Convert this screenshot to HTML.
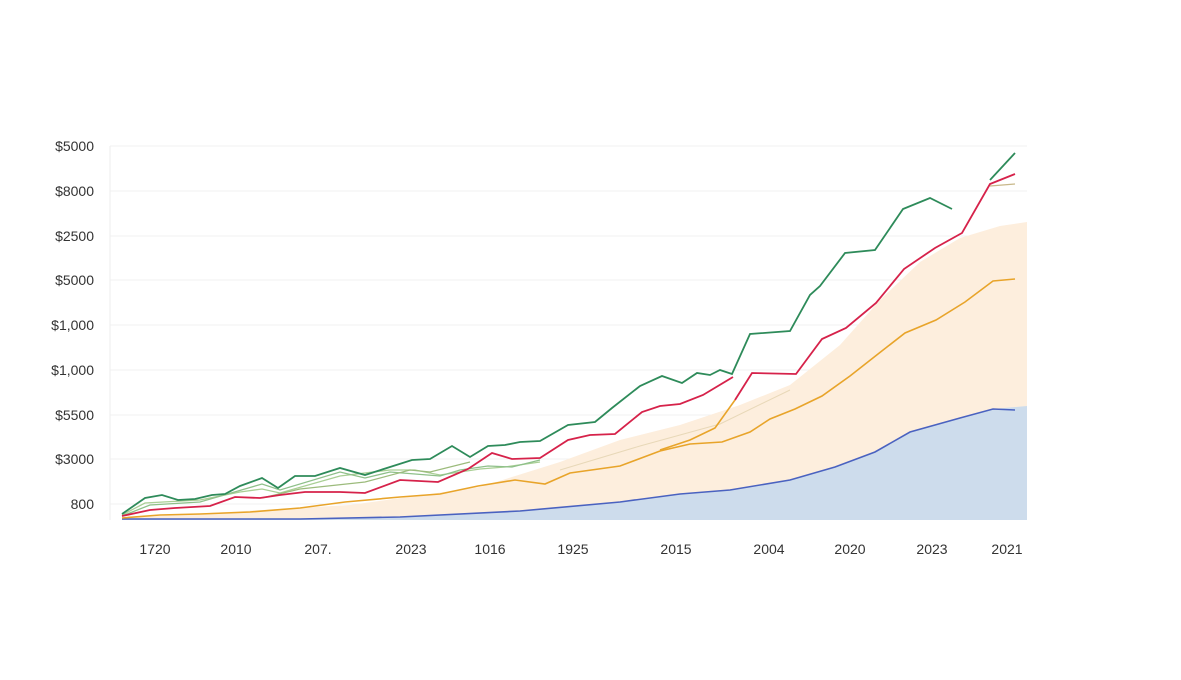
<!DOCTYPE html>
<html><head><meta charset="utf-8"><style>
body{margin:0;background:#fff;}
svg text{font-family:"Liberation Sans",sans-serif;font-size:14px;fill:#333;}
</style></head><body>
<svg width="1181" height="675" viewBox="0 0 1181 675">
<g stroke="#f2f2f2" stroke-width="1">
<line x1="110" y1="146" x2="1027" y2="146"/><line x1="110" y1="191" x2="1027" y2="191"/>
<line x1="110" y1="236" x2="1027" y2="236"/><line x1="110" y1="280" x2="1027" y2="280"/>
<line x1="110" y1="325" x2="1027" y2="325"/><line x1="110" y1="370" x2="1027" y2="370"/>
<line x1="110" y1="415" x2="1027" y2="415"/><line x1="110" y1="459" x2="1027" y2="459"/>
<line x1="110" y1="504" x2="1027" y2="504"/>
</g>
<line x1="110" y1="146" x2="110" y2="520" stroke="#eee"/>
<g text-anchor="end">
<text x="94" y="151">$5000</text><text x="94" y="196">$8000</text><text x="94" y="241">$2500</text>
<text x="94" y="285">$5000</text><text x="94" y="330">$1,000</text><text x="94" y="375">$1,000</text>
<text x="94" y="420">$5500</text><text x="94" y="464">$3000</text><text x="94" y="509">800</text>
</g>
<g text-anchor="middle">
<text x="155" y="554">1720</text><text x="236" y="554">2010</text><text x="318" y="554">207.</text>
<text x="411" y="554">2023</text><text x="490" y="554">1016</text><text x="573" y="554">1925</text>
<text x="676" y="554">2015</text><text x="769" y="554">2004</text><text x="850" y="554">2020</text>
<text x="932" y="554">2023</text><text x="1007" y="554">2021</text>
</g>
<path d="M122,518 L350,505 L480,487 L560,462 L620,440 L680,425 L740,405 L790,385 L840,345 L880,300 L920,262 L960,238 L1000,226 L1027,222 L1027,406 L1015,410 L993,409 L960,418 L910,432 L875,452 L835,467 L790,480 L730,490 L680,494 L620,502 L520,511 L400,517 L300,519 L122,519 Z" fill="#fdeedd"/>
<path d="M122,519 L300,519 L400,517 L520,511 L620,502 L680,494 L730,490 L790,480 L835,467 L875,452 L910,432 L960,418 L993,409 L1027,406 L1027,520 L122,520 Z" fill="#cddcec"/>
<polyline fill="none" stroke="#4a62c0" stroke-width="1.6" points="122,519 300,519 400,517 520,511 620,502 680,494 730,490 790,480 835,467 875,452 910,432 960,418 993,409 1015,410"/>
<polyline fill="none" stroke="#e8d8b8" stroke-width="1" points="560,470 640,446 720,424 790,390"/>
<polyline fill="none" stroke="#a9cf94" stroke-width="1.3" points="122,515 145,503 200,500 240,492 262,489 280,493 340,476 390,470 415,470 440,475 480,469 505,467 540,462"/>
<polyline fill="none" stroke="#8fc08a" stroke-width="1.3" points="122,516 150,505 200,502 262,484 280,490 340,472 365,478 390,472 440,476 460,470 488,466 512,467 540,460"/>
<polyline fill="none" stroke="#9cbb7c" stroke-width="1.2" points="262,498 300,489 365,482 410,470 430,472 470,462"/>
<polyline fill="none" stroke="#2e8b5a" stroke-width="1.8" points="122,514 145,498 162,495 178,500 195,499 212,495 225,494 240,486 262,478 278,488 295,476 315,476 340,468 365,475 390,467 412,460 430,459 452,446 470,457 488,446 505,445 520,442 540,441 568,425 595,422 612,408 640,386 662,376 682,383 697,373 710,375 720,370 732,374 750,334 790,331 810,295 820,286 845,253 875,250 903,209 930,198 952,209"/>
<polyline fill="none" stroke="#2e8b5a" stroke-width="1.8" points="990,180 1015,153"/>
<polyline fill="none" stroke="#c8b88a" stroke-width="1.3" points="990,186 1015,184"/>
<polyline fill="none" stroke="#e8a42a" stroke-width="1.6" points="122,518 160,515 200,514 250,512 300,508 345,502 400,497 440,494 478,486 515,480 545,484 570,473 620,466 660,451 690,444 722,442 750,432 770,419 795,409 822,396 850,376 878,354 905,333 936,320 965,302 993,281 1015,279"/>
<polyline fill="none" stroke="#e8a42a" stroke-width="1.6" points="660,450 690,440 715,428 735,400"/>
<polyline fill="none" stroke="#d6224a" stroke-width="1.8" points="122,516 150,510 175,508 210,506 235,497 260,498 280,495 305,492 340,492 365,493 400,480 438,482 468,469 492,453 512,459 540,458 568,440 590,435 615,434 642,412 660,406 680,404 703,395 733,377"/>
<polyline fill="none" stroke="#d6224a" stroke-width="1.8" points="735,400 752,373 796,374 822,339 846,328 876,303 904,269 935,248 962,233 990,184 1015,174"/>
</svg>
</body></html>
